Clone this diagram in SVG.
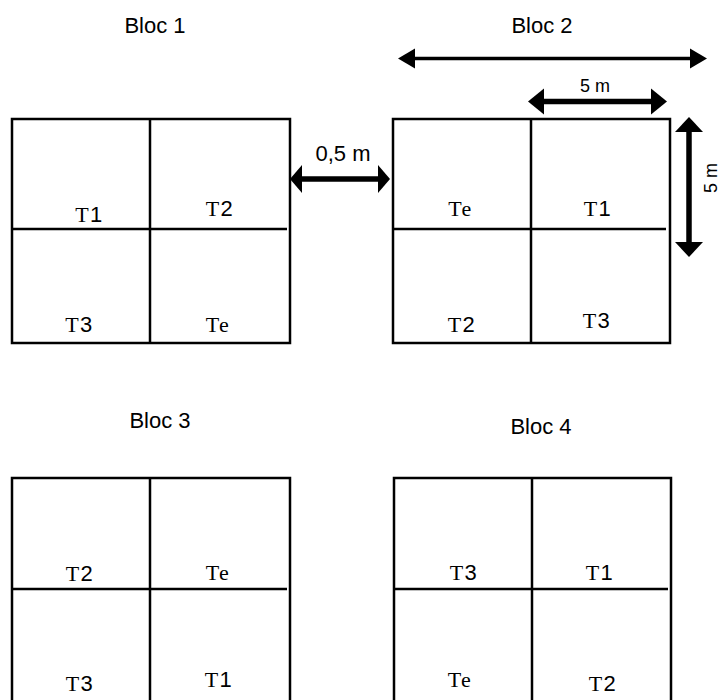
<svg xmlns="http://www.w3.org/2000/svg" width="722" height="700" viewBox="0 0 722 700">
<style>
.box{fill:#fff;stroke:#000;stroke-width:2.5}
.div{stroke:#000;stroke-width:2.5;fill:none}
.lbl{font-family:"Liberation Sans",Arial,sans-serif;font-size:22px;fill:#000;text-anchor:middle}
.t{font-family:"Liberation Serif","Times New Roman",serif;font-size:22px;fill:#000;text-anchor:middle;letter-spacing:1.5px}
.d{font-family:"Liberation Sans",Arial,sans-serif}
.dim{font-family:"Liberation Sans",Arial,sans-serif;font-size:18px;fill:#000;text-anchor:middle}
.shaft{stroke:#000;fill:none}
.head{fill:#000}
</style>
<rect width="722" height="700" fill="#fff"/>

<g id="bloc1">
<text class="lbl" x="155" y="33">Bloc 1</text>
<rect class="box" x="12" y="119" width="278" height="224"/>
<line class="div" x1="150" y1="119" x2="150" y2="343"/>
<line class="div" x1="12" y1="229" x2="287" y2="229"/>
<text class="t" x="89.5" y="221.5">T<tspan class="d">1</tspan></text>
<text class="t" x="220" y="216">T<tspan class="d">2</tspan></text>
<text class="t" x="79.5" y="332">T<tspan class="d">3</tspan></text>
<text class="t" x="218" y="332">Te</text>
</g>

<g id="bloc2">
<text class="lbl" x="542" y="33">Bloc 2</text>
<rect class="box" x="393" y="119" width="277" height="224"/>
<line class="div" x1="531" y1="119" x2="531" y2="343"/>
<line class="div" x1="393" y1="229" x2="666" y2="229"/>
<text class="t" x="460.5" y="216">Te</text>
<text class="t" x="598" y="216">T<tspan class="d">1</tspan></text>
<text class="t" x="462" y="332">T<tspan class="d">2</tspan></text>
<text class="t" x="597" y="328">T<tspan class="d">3</tspan></text>
</g>

<g id="bloc3">
<text class="lbl" x="160" y="428">Bloc 3</text>
<rect class="box" x="12" y="478" width="278" height="226"/>
<line class="div" x1="150" y1="478" x2="150" y2="704"/>
<line class="div" x1="12" y1="589" x2="287" y2="589"/>
<text class="t" x="80" y="581">T<tspan class="d">2</tspan></text>
<text class="t" x="218" y="580">Te</text>
<text class="t" x="80" y="691">T<tspan class="d">3</tspan></text>
<text class="t" x="219" y="687">T<tspan class="d">1</tspan></text>
</g>

<g id="bloc4">
<text class="lbl" x="541" y="434">Bloc 4</text>
<rect class="box" x="394" y="478" width="277" height="226"/>
<line class="div" x1="532" y1="478" x2="532" y2="704"/>
<line class="div" x1="394" y1="589" x2="668" y2="589"/>
<text class="t" x="464" y="580">T<tspan class="d">3</tspan></text>
<text class="t" x="600" y="580">T<tspan class="d">1</tspan></text>
<text class="t" x="460" y="687">Te</text>
<text class="t" x="603" y="691">T<tspan class="d">2</tspan></text>
</g>

<g id="connectors">
<g id="dim-bloc">
<line class="shaft" x1="410" y1="58.5" x2="695" y2="58.5" stroke-width="3.5"/>
<polygon class="head" points="398,58.5 415,48.5 415,68.5"/>
<polygon class="head" points="707,58.5 690,48.5 690,68.5"/>
</g>
<g id="dim-5m-h">
<line class="shaft" x1="540" y1="101.5" x2="655" y2="101.5" stroke-width="5.5"/>
<polygon class="head" points="528,101.5 544,88.5 544,114.5"/>
<polygon class="head" points="667,101.5 651,88.5 651,114.5"/>
<text class="dim" x="595" y="92">5 m</text>
</g>
<g id="dim-5m-v">
<line class="shaft" x1="689" y1="128" x2="689" y2="246" stroke-width="5.5"/>
<polygon class="head" points="689,117 675,132 703,132"/>
<polygon class="head" points="689,257 675,242 703,242"/>
<text class="dim" transform="translate(717,178) rotate(-90)">5 m</text>
</g>
<g id="dim-gap">
<line class="shaft" x1="300" y1="179" x2="380" y2="179" stroke-width="5.5"/>
<polygon class="head" points="290,179 302,165 302,193"/>
<polygon class="head" points="390,179 378,165 378,193"/>
<text class="lbl" x="343" y="161">0,5 m</text>
</g>
</g>
</svg>
